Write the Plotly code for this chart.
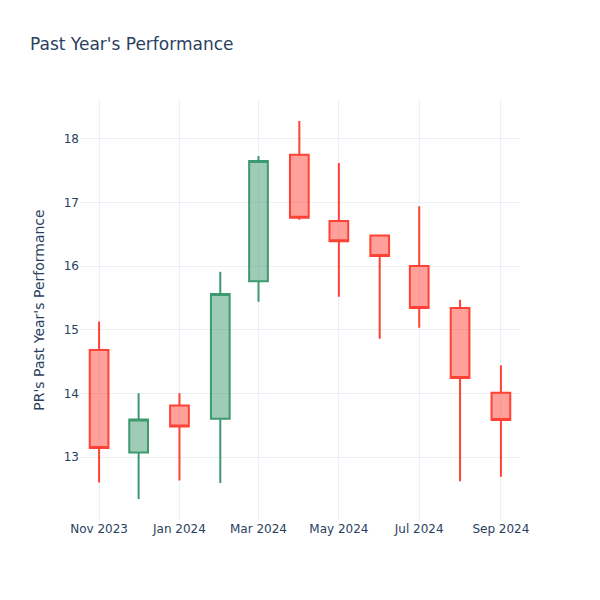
import plotly.graph_objects as go

dates = ["2023-11-01", "2023-12-01", "2024-01-01", "2024-02-01", "2024-03-01", "2024-04-01",
         "2024-05-01", "2024-06-01", "2024-07-01", "2024-08-01", "2024-09-01"]
open_ = [14.68, 13.07, 13.81, 13.60, 15.76, 17.75, 16.71, 16.48, 16.00, 15.34, 14.01]
high = [15.13, 14.00, 14.00, 15.91, 17.73, 18.28, 17.62, 16.49, 16.94, 15.47, 14.44]
low = [12.60, 12.34, 12.63, 12.59, 15.44, 16.73, 15.52, 14.86, 15.03, 12.62, 12.69]
close = [13.14, 13.59, 13.48, 15.56, 17.65, 16.76, 16.39, 16.16, 15.34, 14.24, 13.58]

fig = go.Figure(go.Candlestick(x=dates, open=open_, high=high, low=low, close=close))
fig.update_layout(
    title="Past Year's Performance",
    yaxis_title="PR's Past Year's Performance",
    xaxis_rangeslider_visible=False,
    width=600, height=600,
    template="plotly_white",
    font=dict(family="DejaVu Sans", color="#2a3f5f"),
)
fig.write_html("out.html", config={"displayModeBar": False},
               post_script="document.body.style.margin='0';")
